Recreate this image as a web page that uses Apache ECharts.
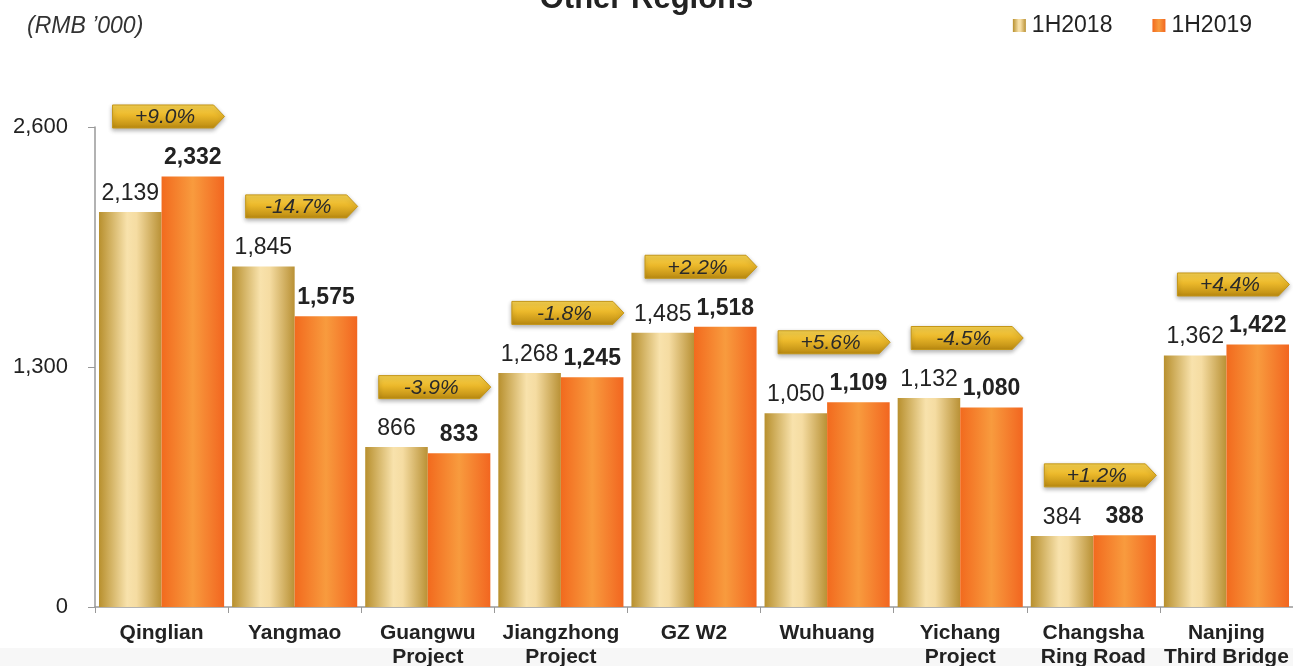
<!DOCTYPE html>
<html>
<head>
<meta charset="utf-8">
<script src="https://cdn.jsdelivr.net/npm/echarts@6/dist/echarts.min.js"></script>
<style>
  html, body { margin: 0; padding: 0; background: #fff; }
  #chart { width: 1293px; height: 666px; }
</style>
</head>
<body>
<div id="chart"></div>
<script>
const regions = ["Qinglian", "Yangmao", "Guangwu\nProject", "Jiangzhong\nProject", "GZ W2",
  "Wuhuang", "Yichang\nProject", "Changsha\nRing Road", "Nanjing\nThird Bridge"];
const h2018 = [2139, 1845, 866, 1268, 1485, 1050, 1132, 384, 1362];
const h2019 = [2332, 1575, 833, 1245, 1518, 1109, 1080, 388, 1422];
const changes = ["+9.0%", "-14.7%", "-3.9%", "-1.8%", "+2.2%", "+5.6%", "-4.5%", "+1.2%", "+4.4%"];
const yTicks = [0, 1300, 2600];

const fontFamily = "Arial, 'Liberation Sans', Helvetica, sans-serif";
const fmt = v => Number(v).toLocaleString("en-US");

const chart = echarts.init(document.getElementById("chart"));

// gold and orange bars: horizontal gradients dark-light-dark
const goldFill = new echarts.graphic.LinearGradient(0, 0, 1, 0, [
  { offset: 0, color: "#b8902e" },
  { offset: 0.45, color: "#f8e2ac" },
  { offset: 0.6, color: "#f5dca2" },
  { offset: 1, color: "#b99135" }
]);
const orangeFill = new echarts.graphic.LinearGradient(0, 0, 1, 0, [
  { offset: 0, color: "#f26a1e" },
  { offset: 0.5, color: "#f89b3e" },
  { offset: 1, color: "#f26620" }
]);

// change tags sit a fixed distance above the taller bar of each pair
const tagData = regions.map((_, i) => [i, Math.max(h2018[i], h2019[i]), changes[i]]);

const renderTag = (params, api) => {
  const p = api.coord([api.value(0), api.value(1)]);
  const cx = p[0] + 7, cy = p[1] - 60;
  const w = 112, h = 23, tip = 11;
  const x0 = cx - w / 2, y0 = cy - h / 2;
  return {
    type: "group",
    children: [
      {
        type: "polygon",
        shape: {
          points: [[x0, y0], [x0 + w - tip, y0], [x0 + w, cy], [x0 + w - tip, y0 + h], [x0, y0 + h]]
        },
        style: {
          fill: new echarts.graphic.LinearGradient(0, 0, 0, 1, [
            { offset: 0, color: "#f8d452" },
            { offset: 0.45, color: "#ebb82a" },
            { offset: 1, color: "#b88810" }
          ]),
          stroke: "#c49618",
          lineWidth: 1,
          shadowColor: "rgba(0,0,0,0.3)",
          shadowBlur: 4,
          shadowOffsetY: 2
        }
      },
      {
        type: "text",
        style: {
          text: api.value(2),
          x: cx - tip / 2 + 2,
          y: cy + 1,
          align: "center",
          verticalAlign: "middle",
          fontSize: 21,
          fontStyle: "italic",
          fontFamily: fontFamily,
          fill: "#2a2a2a"
        }
      }
    ]
  };
};

const option = {
  backgroundColor: "#fff",
  animation: false,
  textStyle: { fontFamily: fontFamily },
  graphic: [
    {
      type: "rect",
      z: -10,
      shape: { x: 0, y: 648, width: 1293, height: 18 },
      style: { fill: "#f7f7f7" }
    }
  ],
  title: [
    {
      text: "Other Regions",
      left: "center",
      top: -21,
      textStyle: { fontSize: 31, fontWeight: "bold", color: "#222", fontFamily: fontFamily }
    },
    {
      text: "(RMB \u2019000)",
      left: 22,
      top: 10,
      textStyle: { fontSize: 23, fontStyle: "italic", fontWeight: "normal", color: "#333", fontFamily: fontFamily }
    }
  ],
  legend: {
    data: ["1H2018", "1H2019"],
    right: 36,
    top: 9,
    itemWidth: 13,
    itemHeight: 13,
    itemGap: 40,
    icon: "rect",
    textStyle: { fontSize: 23, color: "#222", fontFamily: fontFamily, padding: [0, 0, 0, 1] }
  },
  grid: { left: 95, right: 0, top: 127, bottom: 59, outerBoundsMode: "none" },
  xAxis: {
    type: "category",
    data: regions,
    axisLine: { lineStyle: { color: "#999", width: 1.5 } },
    axisTick: { show: true, length: 6, lineStyle: { color: "#999" } },
    axisLabel: {
      fontSize: 21,
      fontWeight: "bold",
      color: "#222",
      margin: 14,
      lineHeight: 24,
      interval: 0
    }
  },
  yAxis: {
    type: "value",
    min: yTicks[0],
    max: yTicks[yTicks.length - 1],
    interval: yTicks[1] - yTicks[0],
    splitLine: { show: false },
    axisLine: { show: true, lineStyle: { color: "#999", width: 1.5 } },
    axisTick: { show: true, length: 7, lineStyle: { color: "#999" } },
    axisLabel: { fontSize: 22, color: "#222", margin: 27, formatter: fmt }
  },
  series: [
    {
      name: "1H2018",
      type: "bar",
      data: h2018,
      barGap: "0%",
      barCategoryGap: "6%",
      itemStyle: { color: goldFill },
      label: {
        show: true,
        position: "top",
        distance: 7,
        fontSize: 23,
        color: "#222",
        formatter: p => fmt(p.value)
      }
    },
    {
      name: "1H2019",
      type: "bar",
      data: h2019,
      itemStyle: { color: orangeFill },
      label: {
        show: true,
        position: "top",
        distance: 7,
        fontSize: 23,
        fontWeight: "bold",
        color: "#222",
        formatter: p => fmt(p.value)
      }
    },
    {
      name: "change",
      type: "custom",
      data: tagData,
      clip: false,
      z: 5,
      renderItem: renderTag
    }
  ]
};

chart.setOption(option);
</script>
</body>
</html>
